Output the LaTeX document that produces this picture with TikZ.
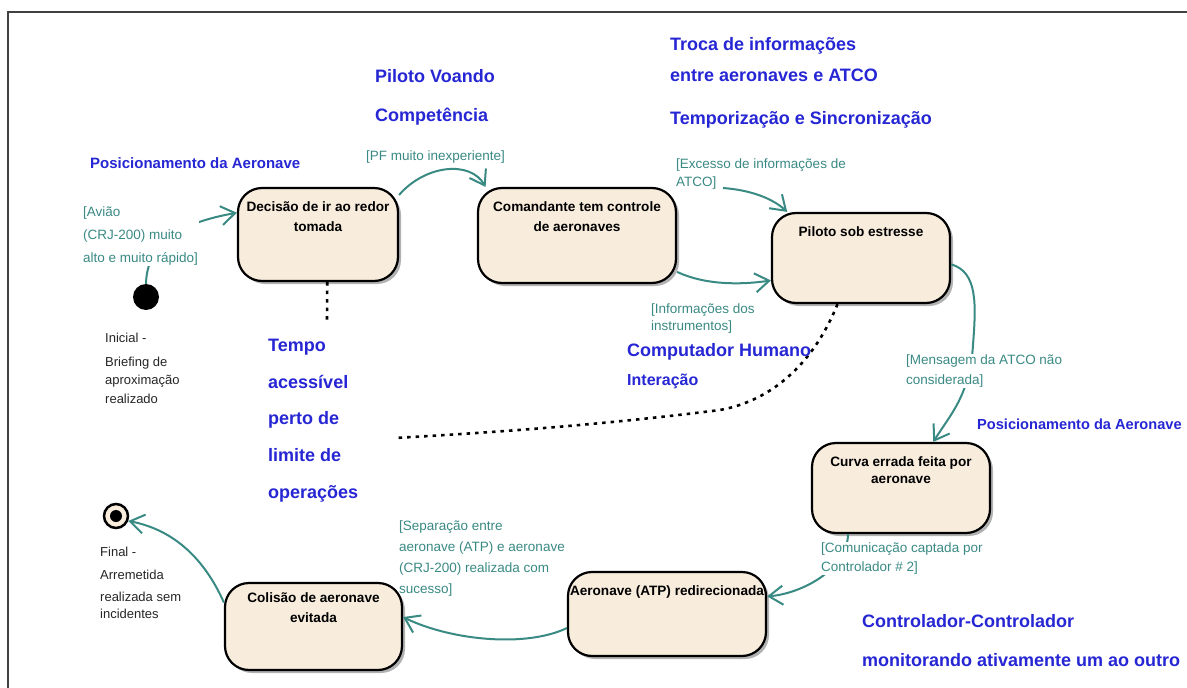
\documentclass[tikz,border=0pt]{standalone}
\usepackage{fontspec}
\setmainfont{Liberation Sans}
\usetikzlibrary{arrows.meta,shadows}
\definecolor{cream}{RGB}{248,236,220}
\definecolor{teal1}{RGB}{58,138,132}
\definecolor{note}{RGB}{38,38,212}
% text block of a state: width, inner height, rise of first line, text
\newcommand\stxt[4]{\parbox[t][#2][t]{#1}{\centering\rule{0pt}{#3}#4\par}}
\begin{document}
\begin{tikzpicture}[x=1pt,y=-1pt,
  statebox/.style={draw=black, line width=2.2pt, rounded corners=24pt, fill=cream,
    inner xsep=0pt, inner ysep=8pt, text=black,
    drop shadow={shadow xshift=3pt, shadow yshift=-3pt, fill=black, opacity=0.3},
    font=\fontsize{13.6}{20.5}\selectfont\bfseries},
  flow/.style={draw=teal1, line width=2pt, -{Straight Barb[length=14pt,width=19pt]}},
  dots/.style={draw=black, line width=2.6pt, dash pattern=on 3.5pt off 5pt},
  heading/.style={text=note, align=left, anchor=west, inner sep=0pt},
  guardtext/.style={text=teal1, align=left, anchor=west, inner sep=1pt,
    font=\fontsize{13.5}{#1}\selectfont},
  caption/.style={text=black!85, align=left, anchor=west, inner sep=0pt,
    font=\fontsize{13}{#1}\selectfont}]

\fill[white] (0,0) rectangle (1187,688);
\useasboundingbox (0,0) rectangle (1187,688);
\draw[line width=1.6pt, black!75] (8,688) -- (8,12) -- (1187,12);

% states
\node[statebox] (decide) at (318,234.5) {\stxt{160pt}{77pt}{15pt}{Decisão de ir ao redor\\tomada}};
\node[statebox] (command) at (577,235.5) {\stxt{198pt}{79pt}{15pt}{Comandante tem controle\\de aeronaves}};
\node[statebox] (stress) at (861,258) {\stxt{178pt}{74pt}{15pt}{Piloto sob estresse}};
\node[statebox, font=\fontsize{13.6}{17}\selectfont\bfseries] (wrongturn) at (901,488)
  {\stxt{178pt}{74pt}{15pt}{Curva errada feita por\\aeronave}};
\node[statebox] (redirect) at (667,614) {\stxt{198pt}{68pt}{15pt}{Aeronave (ATP) redirecionada}};
\node[statebox] (avoided) at (313.5,626.5) {\stxt{177pt}{71pt}{11pt}{Colisão de aeronave\\evitada}};

% pseudo states
\node[circle, fill=black, minimum size=26pt, inner sep=0pt] (start) at (146,297) {};
\node[circle, draw=black, line width=2.5pt, fill=cream, minimum size=24pt, inner sep=0pt,
  path picture={\fill[black] (path picture bounding box.center) circle (6pt);}] (finish) at (116,516) {};

% transitions
\draw[flow] (start.north) .. controls (147,240) and (185,222) .. (decide.165);
\draw[flow] (decide.26) .. controls (425,165) and (470,160) .. (command.152);
\draw[flow] (command.-20) .. controls (705,285) and (740,285) .. (stress.194);
\coordinate (excess) at (723,188);
\draw[flow] (excess) .. controls (750,190) and (772,198) .. (stress.148);
\draw[flow] (stress.-4) .. controls (978,272) and (976,305) .. (973,345)
  .. controls (970,395) and (950,415) .. (wrongturn.55);
\draw[flow] (wrongturn.221) .. controls (848,570) and (800,594) .. (redirect.10);
\draw[flow] (redirect.188) .. controls (525,648) and (450,640) .. (avoided.6);
\draw[flow] (avoided.165) .. controls (205,560) and (175,530) .. (finish.-22);

% dotted links to the time note
\coordinate (tempoTop) at (327,322);
\draw[dots] (decide.-79) -- (tempoTop);
\coordinate (dotsEnd) at (395,438);
\draw[dots] (stress.-117) .. controls (815,360) and (775,400) .. (720,410)
  .. controls (600,425) and (500,432) .. (dotsEnd);

% guards
\node[guardtext=18] (pfGuard) at (365,157) {[PF muito inexperiente]};
\node[guardtext=18] (excessGuard) at (675,174) {[Excesso de informações de\\ATCO]};
\node[guardtext=23, fill=white] (avGuard) at (82,236) {[Avião\\(CRJ-200) muito\\alto e muito rápido]};
\node[guardtext=17] (instrGuard) at (650,318.5) {[Informações dos\\instrumentos]};
\node[guardtext=20, fill=white] (msgGuard) at (905,371) {[Mensagem da ATCO não\\considerada]};
\node[guardtext=19, fill=white] (commGuard) at (820,558.5) {[Comunicação captada por\\Controlador \# 2]};
\node[guardtext=21] (sepGuard) at (398,558.5) {[Separação entre\\aeronave (ATP) e aeronave\\(CRJ-200) realizada com\\sucesso]};

% captions of start and end
\node[caption=18] (initCap) at (105,338) {Inicial -};
\node[caption=18.5] (briefCap) at (105,380) {Briefing de\\aproximação\\realizado};
\node[caption=23] (finalCap) at (100,563.5) {Final -\\Arremetida};
\node[caption=17] (finalCap2) at (100,605.5) {realizada sem\\incidentes};

% factor notes
\node[heading, font=\fontsize{15}{18}\selectfont\bfseries] (posLeft) at (90,163) {Posicionamento da Aeronave};
\node[heading, font=\fontsize{18}{39}\selectfont\bfseries] (flying) at (375,97.5) {Piloto Voando\\Competência};
\node[heading, font=\fontsize{18}{31}\selectfont\bfseries] (exchange) at (670,59.5) {Troca de informações\\entre aeronaves e ATCO};
\node[heading, font=\fontsize{18}{22}\selectfont\bfseries] (timing) at (670,120) {Temporização e Sincronização};
\node[heading, font=\fontsize{18}{36.75}\selectfont\bfseries] (tempo) at (268,420.5) {Tempo\\acessível\\perto de\\limite de\\operações};
\node[heading, font=\fontsize{18}{22}\selectfont\bfseries] (hciA) at (627,352) {Computador Humano};
\node[heading, font=\fontsize{16}{20}\selectfont\bfseries] (hciB) at (627,381) {Interação};
\node[heading, font=\fontsize{14.6}{18}\selectfont\bfseries] (posRight) at (977,424) {Posicionamento da Aeronave};
\node[heading, font=\fontsize{18}{38.5}\selectfont\bfseries] (ctrl) at (862,640.5) {Controlador-Controlador\\monitorando ativamente um ao outro};
\end{tikzpicture}
\end{document}
